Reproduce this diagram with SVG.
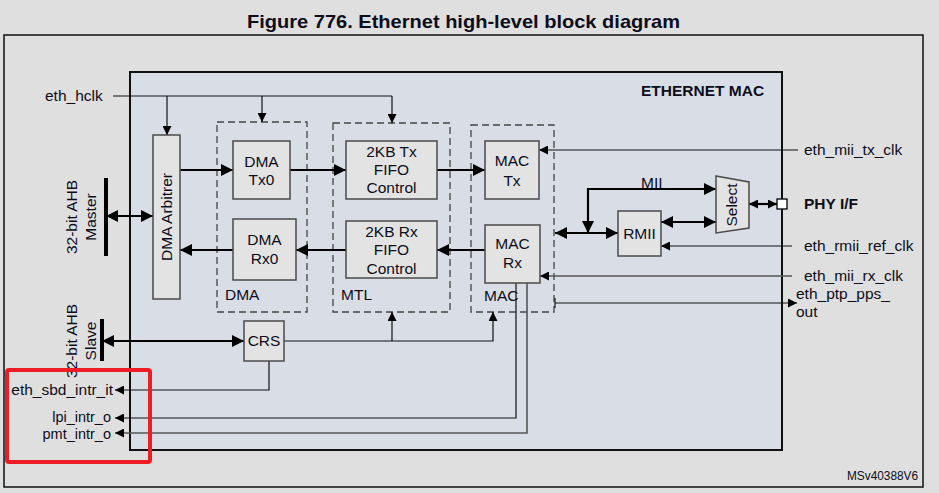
<svg xmlns="http://www.w3.org/2000/svg" width="939" height="493" viewBox="0 0 939 493">
<style>
.t{font-family:"Liberation Sans",Arial,sans-serif;font-size:15.5px;fill:#0d0d1a}
.b{font-weight:bold}
.m{text-anchor:middle}
.e{text-anchor:end}
.blk{fill:#e3e3e3;stroke:#4a4a4a;stroke-width:1.5}
.dash{fill:none;stroke:#444;stroke-width:1.3;stroke-dasharray:7,4}
.thin{fill:none;stroke:#111;stroke-width:1.2}
.grey{fill:none;stroke:#555;stroke-width:1.6}
.thick{fill:none;stroke:#000;stroke-width:2.2}
.bar{stroke:#000;stroke-width:4}
.sm{font-size:14.5px}
</style>
<defs>
<marker id="ah" markerUnits="userSpaceOnUse" markerWidth="12" markerHeight="12" refX="12" refY="6" orient="auto-start-reverse"><path d="M0,0 L12,6 L0,12 z" fill="#000"/></marker>
<marker id="as" markerUnits="userSpaceOnUse" markerWidth="9" markerHeight="9" refX="9" refY="4.5" orient="auto-start-reverse"><path d="M0,0 L9,4.5 L0,9 z" fill="#000"/></marker>
</defs>
<rect x="0" y="0" width="939" height="493" fill="#dfdfdf"/>
<text class="t b" x="247" y="28" textLength="433" lengthAdjust="spacingAndGlyphs" style="font-size:19px">Figure 776. Ethernet high-level block diagram</text>
<rect x="4" y="35" width="919" height="452" fill="none" stroke="#111" stroke-width="1.5"/>
<g id="ethernet_mac">
<rect x="130" y="72" width="652" height="378" fill="#d9dee6" stroke="#111" stroke-width="2"/>
<text class="t b" x="641" y="96">ETHERNET MAC</text>
</g>
<g id="dma_group"><rect class="dash" x="217" y="122" width="90" height="190"/><text class="t" x="225" y="300">DMA</text></g>
<g id="mtl_group"><rect class="dash" x="333" y="123" width="117" height="189"/><text class="t" x="341" y="300">MTL</text></g>
<g id="mac_group"><rect class="dash" x="471" y="125" width="83" height="187"/><text class="t" x="484" y="301">MAC</text></g>

<g id="connectors">
<path class="thin" d="M113,96 H392"/>
<path class="thin" d="M167,96 V135" marker-end="url(#as)"/>
<path class="thin" d="M262,96 V122" marker-end="url(#as)"/>
<path class="thin" d="M392,96 V123" marker-end="url(#as)"/>
<path class="thick" d="M106,216 H153" marker-start="url(#ah)" marker-end="url(#ah)"/>
<path class="thick" d="M180,170 H233" marker-end="url(#ah)"/>
<path class="thick" d="M233,250 H180" marker-end="url(#ah)"/>
<path class="thick" d="M290,170 H346" marker-end="url(#ah)"/>
<path class="thick" d="M346,250 H296" marker-end="url(#ah)"/>
<path class="thick" d="M437,170 H485" marker-end="url(#ah)"/>
<path class="thick" d="M485,250 H437" marker-end="url(#ah)"/>
<path class="thick" d="M555,233 H618" marker-start="url(#ah)" marker-end="url(#ah)"/>
<path class="thick" d="M588,233 V189 H716" marker-start="url(#ah)" marker-end="url(#ah)"/>
<path class="thick" d="M661,222 H716" marker-start="url(#ah)" marker-end="url(#ah)"/>
<path class="thick" d="M749,204 H777" marker-start="url(#as)" marker-end="url(#as)"/>
<path class="thin" d="M798,150 H539" marker-end="url(#as)"/>
<path class="thin" d="M792,246 H661" marker-end="url(#as)"/>
<path class="grey" d="M792,276 H540" marker-end="url(#as)"/>
<path class="thin" d="M555,298 V308"/>
<path class="thin" d="M555,303 H797" marker-end="url(#as)"/>
<path class="thick" d="M102,341 H244" marker-start="url(#ah)" marker-end="url(#ah)"/>
<path class="thin" d="M284,341 H493 V312" marker-end="url(#as)"/>
<path class="thin" d="M392,341 V312" marker-end="url(#as)"/>
<path class="thin" d="M269,361 V390 H115" marker-end="url(#as)"/>
<path class="thin" d="M516,283 V418 H115" marker-end="url(#as)"/>
<path class="grey" d="M527,283 V433 H115" marker-end="url(#as)"/>
</g>

<g id="dma_arbiter"><rect class="blk" x="153" y="135" width="27" height="164"/><text class="t m" transform="translate(172,217) rotate(-90)">DMA Arbitrer</text></g>
<g id="dma_tx0"><rect class="blk" x="233" y="141" width="57" height="58"/><text class="t m" x="261.5" y="167">DMA</text><text class="t m" x="261.5" y="185">Tx0</text></g>
<g id="dma_rx0"><rect class="blk" x="233" y="219" width="63" height="61"/><text class="t m" x="264.5" y="245">DMA</text><text class="t m" x="264.5" y="264">Rx0</text></g>
<g id="tx_fifo"><rect class="blk" x="346" y="141" width="91" height="58"/><text class="t m" x="391.5" y="157">2KB Tx</text><text class="t m" x="391.5" y="175">FIFO</text><text class="t m" x="391.5" y="193">Control</text></g>
<g id="rx_fifo"><rect class="blk" x="346" y="221" width="91" height="57"/><text class="t m" x="391.5" y="237">2KB Rx</text><text class="t m" x="391.5" y="255">FIFO</text><text class="t m" x="391.5" y="274">Control</text></g>
<g id="mac_tx"><rect class="blk" x="485" y="141" width="54" height="58"/><text class="t m" x="512" y="166">MAC</text><text class="t m" x="512" y="186">Tx</text></g>
<g id="mac_rx"><rect class="blk" x="485" y="225" width="55" height="58"/><text class="t m" x="512.5" y="249">MAC</text><text class="t m" x="512.5" y="268">Rx</text></g>
<g id="rmii"><rect class="blk" x="618" y="211" width="43" height="45"/><text class="t m" x="639.5" y="239">RMII</text></g>
<g id="mii_label"><text class="t" x="641" y="188">MII</text></g>
<g id="select"><path class="blk" d="M716,176 L749,182 L749,228 L716,233 z"/><text class="t m" transform="translate(737,205) rotate(-90)">Select</text></g>
<g id="phy_if"><rect x="777" y="199" width="10" height="10" fill="#fff" stroke="#000" stroke-width="1.3"/><text class="t b" x="804" y="209">PHY I/F</text></g>
<g id="crs"><rect class="blk" x="244" y="321" width="40" height="40"/><text class="t m" x="264" y="346">CRS</text></g>
<g id="ahb_master"><line class="bar" x1="106" y1="178" x2="106" y2="256"/><text class="t m" transform="translate(77,217) rotate(-90)">32-bit AHB</text><text class="t m" transform="translate(96,217) rotate(-90)">Master</text></g>
<g id="ahb_slave"><line class="bar" x1="102" y1="319" x2="102" y2="361"/><text class="t m" transform="translate(77,341) rotate(-90)">32-bit AHB</text><text class="t m" transform="translate(96,341) rotate(-90)">Slave</text></g>
<g id="signals">
<text class="t" x="45" y="101">eth_hclk</text>
<text class="t" x="804" y="155">eth_mii_tx_clk</text>
<text class="t" x="804" y="251">eth_rmii_ref_clk</text>
<text class="t" x="804" y="281">eth_mii_rx_clk</text>
<text class="t" x="796" y="299">eth_ptp_pps_</text>
<text class="t" x="796" y="317">out</text>
<text class="t e" x="113" y="395">eth_sbd_intr_it</text>
<text class="t e sm" x="111" y="421.5">lpi_intr_o</text>
<text class="t e sm" x="111" y="438.5">pmt_intr_o</text>
</g>
<rect id="highlight" x="7" y="370" width="143" height="92" rx="2" fill="none" stroke="#ee1c24" stroke-width="4"/>
<text class="t e" x="918" y="480" textLength="71" lengthAdjust="spacingAndGlyphs" style="font-size:12px">MSv40388V6</text>
</svg>
